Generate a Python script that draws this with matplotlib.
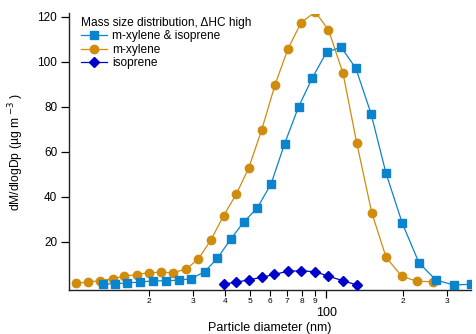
import matplotlib
matplotlib.use("Agg")
import matplotlib.pyplot as plt
from matplotlib.ticker import FixedLocator, FixedFormatter, NullFormatter

plt.rcParams['font.family'] = ['Liberation Sans', 'DejaVu Sans']

# Data
mx_iso_d = [13.2, 14.7, 16.4, 18.5, 20.7, 23.3, 26.2, 29.4, 33.2, 37.3, 42.0, 47.3, 53.6,
            60.7, 68.6, 77.8, 88.3, 100.3, 114.5, 130.8, 150.2, 172.1, 199.5, 231.9,
            270.4, 318.3, 373.6]
mx_iso_v = [1.2, 1.5, 1.8, 2.2, 2.7, 2.8, 3.0, 3.7, 6.8, 12.8, 21.2, 28.8, 35.2,
            45.9, 63.7, 80.0, 93.0, 104.3, 106.5, 97.2, 77.0, 50.5, 28.3, 10.8,
            3.1, 0.9, 1.2]

mx_d = [10.3, 11.5, 12.8, 14.4, 16.0, 17.9, 20.0, 22.3, 25.0, 28.0, 31.3, 35.1, 39.4,
        44.2, 49.5, 55.7, 62.9, 70.7, 79.7, 90.6, 102.1, 116.4, 132.0, 151.2, 172.2,
        198.3, 228.4, 263.7]
mx_v = [1.6, 2.2, 2.8, 3.7, 4.8, 5.5, 6.4, 6.5, 6.4, 7.9, 12.3, 20.8, 31.6,
        41.2, 52.8, 69.8, 89.9, 105.8, 117.5, 122.2, 114.2, 95.1, 63.9, 33.0, 13.2,
        4.8, 2.5, 2.4]

iso_d = [39.5, 44.0, 49.7, 55.7, 62.5, 70.7, 79.5, 90.3, 102.1, 116.4, 132.0]
iso_v = [1.3, 2.1, 3.2, 4.3, 5.6, 7.0, 7.2, 6.8, 4.8, 2.8, 0.9]

labels = ["m-xylene & isoprene", "m-xylene", "isoprene"]
legend_title = "Mass size distribution, \u0394HC high"
y_ticks = [20, 40, 60, 80, 100, 120]
x_minor = [20, 30, 40, 50, 60, 70, 80, 90, 200, 300]
x_minor_labels = ["2", "3", "4", "5", "6", "7", "8", "9", "2", "3"]

c_blue = "#0A84CC"
c_orange = "#D08C0C"
c_dark = "#0000C8"

fig = plt.figure(figsize=(4.77, 3.34), dpi=100)
ax = fig.add_axes([69/477, 44/334, (471-69)/477, (290-13.5)/334])

ax.plot(mx_iso_d, mx_iso_v, '-s', color=c_blue, lw=0.9, ms=5.8, label=labels[0], zorder=3)
ax.plot(mx_d, mx_v, '-o', color=c_orange, lw=0.9, ms=6.0, label=labels[1], zorder=2)
ax.plot(iso_d, iso_v, '-D', color=c_dark, lw=0.9, ms=5.2, label=labels[2], zorder=4)

ax.set_xscale('log')
ax.set_xlim(9.7, 372)
ax.set_ylim(-1.33, 121.5)

ax.xaxis.set_major_locator(FixedLocator([100]))
ax.xaxis.set_major_formatter(FixedFormatter(["100"]))
ax.xaxis.set_minor_locator(FixedLocator(x_minor))
ax.xaxis.set_minor_formatter(FixedFormatter(x_minor_labels))
ax.yaxis.set_major_locator(FixedLocator(y_ticks))
ax.yaxis.set_minor_formatter(NullFormatter())

for s in ['top', 'right']:
    ax.spines[s].set_visible(False)
for s in ['left', 'bottom']:
    ax.spines[s].set_linewidth(1.0)
    ax.spines[s].set_color('#222222')

ax.tick_params(axis='y', which='major', direction='out', length=6, width=0.9, labelsize=8.5, pad=2.5)
ax.tick_params(axis='x', which='major', direction='out', length=5.5, width=0.9, labelsize=9, pad=7)
ax.tick_params(axis='x', which='minor', direction='out', length=4, width=0.8, labelsize=6, pad=1.5)

ax.set_xlabel("Particle diameter (nm)", fontsize=9, labelpad=2)
ax.set_ylabel("dM/dlogDp (\u00b5g m $^{-3}$ )", fontsize=8.7, labelpad=8)

leg = ax.legend(title=legend_title, loc='upper left', bbox_to_anchor=(81/477, 1 - 16.7/334),
                bbox_transform=fig.transFigure, frameon=False, fontsize=8.6, title_fontsize=8.6,
                handlelength=2.2, handletextpad=0.42, labelspacing=0.13, borderpad=0.0,
                borderaxespad=0.0, alignment='left')

fig.savefig("out.png", dpi=100)
